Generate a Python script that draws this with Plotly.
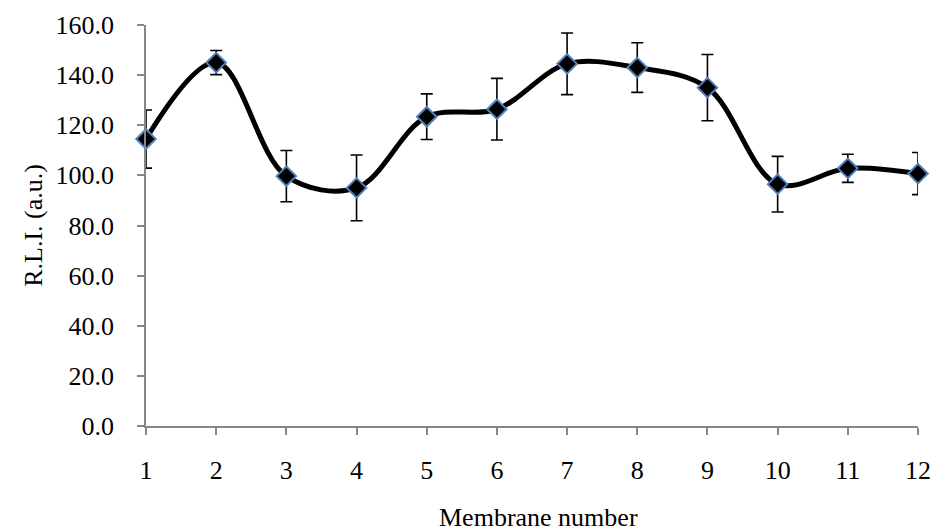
import plotly.graph_objects as go

membranes = [1, 2, 3, 4, 5, 6, 7, 8, 9, 10, 11, 12]
rli = [114.5, 145.0, 99.7, 95.0, 123.4, 126.4, 144.5, 143.0, 135.0, 96.5, 102.8, 100.7]
err = [11.6, 4.8, 10.2, 13.1, 9.1, 12.3, 12.3, 9.9, 13.2, 11.1, 5.6, 8.4]
y_ticks = [0, 20, 40, 60, 80, 100, 120, 140, 160]

FONT = "Liberation Serif, Times New Roman, serif"
AXIS = "#868686"
FS = 26

fig = go.Figure()
fig.add_trace(go.Scatter(
    x=membranes, y=rli,
    mode="lines+markers",
    line=dict(color="black", width=5, shape="spline", smoothing=1.0),
    marker=dict(symbol="diamond", size=15, color="black",
                line=dict(color="#4f81bd", width=2)),
    error_y=dict(type="data", array=err, visible=True, color="black",
                 thickness=1.6, width=6),
    cliponaxis=False,
    showlegend=False,
))

fig.update_layout(
    width=938, height=531,
    margin=dict(l=146, r=20, t=25, b=105, autoexpand=False),
    paper_bgcolor="white", plot_bgcolor="white",
    font=dict(family=FONT, size=FS, color="black"),
    xaxis=dict(
        range=[1, 12], tickvals=membranes, ticktext=[str(m) for m in membranes],
        showgrid=False, zeroline=False, showline=True, linecolor=AXIS, linewidth=1.5,
        ticks="outside", ticklen=7, tickcolor=AXIS, tickwidth=1.5,
        ticklabelstandoff=13, automargin=False,
    ),
    yaxis=dict(
        range=[0, 160], tickvals=y_ticks, ticktext=[f"{v:.1f}" for v in y_ticks],
        showgrid=False, zeroline=False, showline=True, linecolor=AXIS, linewidth=1.5,
        ticks="outside", ticklen=7, tickcolor=AXIS, tickwidth=1.5,
        ticklabelstandoff=18, automargin=False,
    ),
    annotations=[
        dict(text="Membrane number", xref="paper", yref="paper",
             x=0.509, y=-0.229, xanchor="center", yanchor="middle",
             showarrow=False, font=dict(size=FS)),
        dict(text="R.L.I. (a.u.)", xref="paper", yref="paper",
             x=-0.146, y=0.5, xanchor="center", yanchor="middle",
             textangle=-90, showarrow=False, font=dict(size=FS)),
    ],
)

fig.write_html("out.html")
